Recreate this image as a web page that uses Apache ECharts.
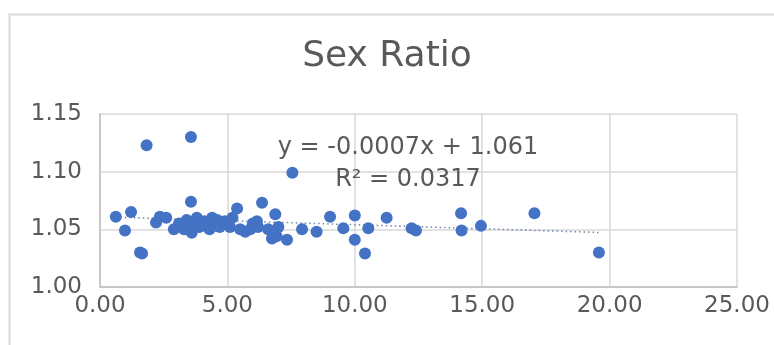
<!DOCTYPE html>
<html>
<head>
<meta charset="utf-8">
<script src="https://cdn.jsdelivr.net/npm/echarts@6/dist/echarts.min.js"></script>
<style>
html,body{margin:0;padding:0;background:#fff;}
#main{width:774px;height:345px;}
</style>
</head>
<body>
<div id="main"></div>
<script>
// ---- data ----
var titleText = 'Sex Ratio';
var xValues = [0.62, 1.22, 0.98, 1.57, 1.65, 1.83, 2.2, 2.35, 2.6, 2.9, 3.1, 3.3, 3.4, 3.5, 3.57, 3.57, 3.6, 3.7, 3.8, 3.9, 4.1, 4.3, 4.4, 4.5, 4.6, 4.7, 4.9, 5.1, 5.2, 5.38, 5.5, 5.7, 5.9, 6.0, 6.16, 6.2, 6.36, 6.6, 6.75, 6.88, 6.93, 7.0, 7.34, 7.55, 7.93, 8.5, 9.03, 9.55, 10.0, 10.0, 10.4, 10.53, 11.25, 12.23, 12.4, 14.17, 14.19, 14.95, 17.05, 19.58];
var yValues = [1.061, 1.065, 1.049, 1.030, 1.029, 1.123, 1.056, 1.061, 1.060, 1.050, 1.055, 1.050, 1.058, 1.052, 1.130, 1.074, 1.047, 1.055, 1.060, 1.052, 1.057, 1.050, 1.060, 1.053, 1.058, 1.052, 1.057, 1.052, 1.060, 1.068, 1.050, 1.048, 1.050, 1.055, 1.057, 1.052, 1.073, 1.050, 1.042, 1.063, 1.044, 1.052, 1.041, 1.099, 1.050, 1.048, 1.061, 1.051, 1.062, 1.041, 1.029, 1.051, 1.060, 1.051, 1.049, 1.064, 1.049, 1.053, 1.064, 1.030];
var trendSlope = -0.0007;
var trendIntercept = 1.061;
var equationLine = 'y = -0.0007x + 1.061';
var r2Line = 'R² = 0.0317';
var xTickMin = 0, xTickMax = 25, xTickStep = 5;
var yTickMin = 1.00, yTickMax = 1.15, yTickStep = 0.05;

var points = xValues.map(function (x, i) { return [x, yValues[i]]; });
var xLo = Math.min.apply(null, xValues), xHi = Math.max.apply(null, xValues);
var trend = [[xLo, trendIntercept + trendSlope * xLo], [xHi, trendIntercept + trendSlope * xHi]];

var FONT = 'DejaVu Sans';
var chart = echarts.init(document.getElementById('main'), null, {renderer: 'canvas'});
chart.setOption({
  animation: false,
  backgroundColor: '#ffffff',
  title: {
    text: titleText, left: 'center', top: 34,
    textStyle: {fontFamily: FONT, fontSize: 36, fontWeight: 'normal', color: '#595959'}
  },
  grid: {left: 100, right: 37, top: 114, bottom: 58, containLabel: false},
  xAxis: {
    type: 'value', min: xTickMin, max: xTickMax, interval: xTickStep,
    axisLine: {show: true, lineStyle: {color: '#bfbfbf', width: 1.5}},
    axisTick: {show: false},
    axisLabel: {fontFamily: FONT, fontSize: 23, color: '#595959', margin: 8,
      formatter: function (v) { return v.toFixed(2); }},
    splitLine: {show: true, lineStyle: {color: '#d9d9d9', width: 1.5}}
  },
  yAxis: {
    type: 'value', min: yTickMin, max: yTickMax, interval: yTickStep,
    axisLine: {show: true, lineStyle: {color: '#bfbfbf', width: 1.5}},
    axisTick: {show: false},
    axisLabel: {fontFamily: FONT, fontSize: 23, color: '#595959', margin: 18,
      formatter: function (v) { return v.toFixed(2); }},
    splitLine: {show: true, lineStyle: {color: '#d9d9d9', width: 1.5}}
  },
  graphic: [
    {type: 'rect', left: 7, top: 12, shape: {width: 800, height: 400},
      style: {fill: 'none', stroke: '#d9d9d9', lineWidth: 2}, silent: true, z: -1},
    {type: 'text', x: 408, y: 148, z: 10,
      style: {text: equationLine, fontFamily: FONT, fontSize: 24, fill: '#595959',
        align: 'center', verticalAlign: 'middle'}},
    {type: 'text', x: 408, y: 180, z: 10,
      style: {text: r2Line, fontFamily: FONT, fontSize: 24, fill: '#595959',
        align: 'center', verticalAlign: 'middle'}}
  ],
  series: [
    {
      type: 'line', data: trend, symbol: 'none', z: 3,
      lineStyle: {color: '#6f86ad', width: 1.5, type: [1.5, 3]}
    },
    {
      type: 'scatter', data: points, symbol: 'circle', symbolSize: 12, z: 4,
      itemStyle: {color: '#4472C4', opacity: 1}
    }
  ]
});
</script>
</body>
</html>
